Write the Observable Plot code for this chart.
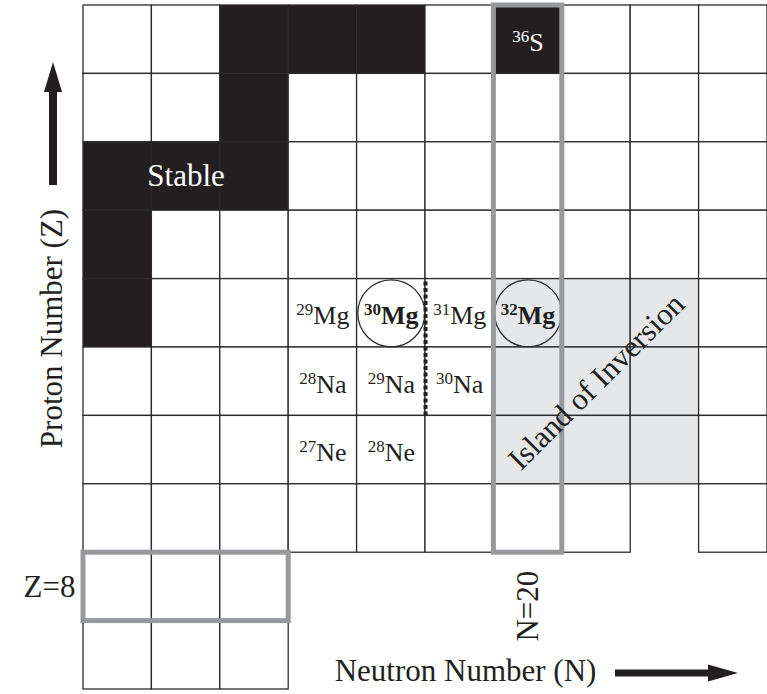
<!DOCTYPE html>
<html>
<head>
<meta charset="utf-8">
<script src="https://cdn.jsdelivr.net/npm/d3@7"></script>
<script src="https://cdn.jsdelivr.net/npm/@observablehq/plot@0.6"></script>
<style>
  html, body { margin: 0; padding: 0; background: #fff; }
</style>
</head>
<body>
<div id="chart"></div>
<script>
// Columns (neutron number N) and rows (proton number Z) of this corner of the nuclide chart
const neutronNumbers = [14, 15, 16, 17, 18, 19, 20, 21, 22, 23];
const protonNumbers = [16, 15, 14, 13, 12, 11, 10, 9, 8, 7];

// Neutron numbers of the nuclides shown in each proton row (same order as protonNumbers)
const nuclidesByRow = [
  [14, 15, 16, 17, 18, 19, 20, 21, 22, 23],
  [14, 15, 16, 17, 18, 19, 20, 21, 22, 23],
  [14, 15, 16, 17, 18, 19, 20, 21, 22, 23],
  [14, 15, 16, 17, 18, 19, 20, 21, 22, 23],
  [14, 15, 16, 17, 18, 19, 20, 21, 22, 23],
  [14, 15, 16, 17, 18, 19, 20, 21, 22, 23],
  [14, 15, 16, 17, 18, 19, 20, 21, 22, 23],
  [14, 15, 16, 17, 18, 19, 20, 21, 23],
  [14, 15, 16],
  [14, 15, 16]
];

// Stable nuclides (proton number, neutron number)
const stableZ = [16, 16, 16, 16, 15, 14, 14, 14, 13, 12];
const stableN = [16, 17, 18, 20, 16, 14, 15, 16, 14, 14];

// The island of inversion
const islandN = [20, 21, 22];
const islandZ = [10, 11, 12];

// Named nuclides: element symbol, proton number, mass number
const labelSymbol = ["Mg", "Mg", "Mg", "Mg", "Na", "Na", "Na", "Ne", "Ne", "S"];
const labelZ = [12, 12, 12, 12, 11, 11, 11, 10, 10, 16];
const labelMass = [29, 30, 31, 32, 28, 29, 30, 27, 28, 36];
// Circled (bold) nuclides, by mass number of magnesium
const circledMgMass = [30, 32];

// Magic numbers and the shell gap between N = 18 and N = 19
const magicN = 20;
const magicZ = 8;
const shellGapN = [18, 19];
const shellGapZ = [11, 12];

// Annotation texts
const stableText = "Stable";
const stableTextRow = 14;
const islandText = "Island of Inversion";
const protonTitle = "Proton Number (Z)";
const neutronTitle = "Neutron Number (N)";

// ---- styling ----
const ink = "#231f20";
const gridInk = "#2b2b2b";
const islandFill = "#e6e7e9";
const magicStroke = "#97999c";
const serif = "'Liberation Serif', 'Times New Roman', serif";
const bigFont = 31;
const nuclideFont = 26;
const massFont = 17;

// ---- derived tables ----
const isStable = (N, Z) => stableZ.some((z, i) => z === Z && stableN[i] === N);
const inIsland = (N, Z) => islandN.includes(N) && islandZ.includes(Z);

const cells = protonNumbers.flatMap((Z, i) =>
  nuclidesByRow[i].map(N => ({
    N, Z,
    fill: isStable(N, Z) ? ink : inIsland(N, Z) ? islandFill : "#ffffff"
  }))
);

const nuclides = labelSymbol.map((symbol, i) => {
  const Z = labelZ[i], A = labelMass[i], N = A - Z;
  return {
    N, Z, label: `${A}${symbol}`,
    circled: symbol === "Mg" && circledMgMass.includes(A),
    stable: isStable(N, Z)
  };
});

// Extent of the N = 20 column and of the Z = 8 row among the nuclides shown
const magicColumnZ = d3.extent(cells.filter(d => d.N === magicN), d => d.Z);
const magicRowN = d3.extent(cells.filter(d => d.Z === magicZ), d => d.N);
const magicBoxes = [
  {x1: magicN - 0.5, x2: magicN + 0.5, y1: magicColumnZ[0] - 0.5, y2: magicColumnZ[1] + 0.5},
  {x1: magicRowN[0] - 0.5, x2: magicRowN[1] + 0.5, y1: magicZ - 0.5, y2: magicZ + 0.5}
];

const stableRow = stableN.filter((n, i) => stableZ[i] === stableTextRow);
const stableLabel = [{N: d3.mean(stableRow), Z: stableTextRow, text: stableText}];
const islandLabel = [{N: d3.mean(islandN), Z: d3.mean(islandZ), text: islandText}];
const shellGap = [{N: d3.mean(shellGapN), Z1: d3.min(shellGapZ) - 0.5, Z2: d3.max(shellGapZ) + 0.5}];

const width = 767, height = 694;
const marginLeft = 83, marginRight = 0, marginTop = 5, marginBottom = 5;
const cellSize = (width - marginLeft - marginRight) / neutronNumbers.length;

// Filled block arrow from (x0, y0) to the tip (x1, y1)
function blockArrow(x0, y0, x1, y1, shaft, headWidth, headLength) {
  const len = Math.hypot(x1 - x0, y1 - y0);
  const ux = (x1 - x0) / len, uy = (y1 - y0) / len;
  const nx = -uy, ny = ux;
  const bx = x1 - ux * headLength, by = y1 - uy * headLength;
  const p = [
    [x0 + nx * shaft / 2, y0 + ny * shaft / 2],
    [bx + nx * shaft / 2, by + ny * shaft / 2],
    [bx + nx * headWidth / 2, by + ny * headWidth / 2],
    [x1, y1],
    [bx - nx * headWidth / 2, by - ny * headWidth / 2],
    [bx - nx * shaft / 2, by - ny * shaft / 2],
    [x0 - nx * shaft / 2, y0 - ny * shaft / 2]
  ];
  return "M" + p.map(q => q.join(",")).join("L") + "Z";
}

// Arrows that accompany the two axis titles
function axisArrows(index, scales, values, dims) {
  const g = d3.create("svg:g").attr("fill", ink);
  const ax = dims.marginLeft - 30;
  g.append("path").attr("d", blockArrow(ax, dims.marginTop + 180, ax, dims.marginTop + 57, 8, 18, 30));
  const ay = dims.height - dims.marginBottom - 16;
  g.append("path").attr("d", blockArrow(dims.width - 152, ay, dims.width - 29, ay, 7, 17, 30));
  return g.node();
}

const plot = Plot.plot({
  width, height, marginLeft, marginRight, marginTop, marginBottom,
  x: {domain: [neutronNumbers[0] - 0.5, neutronNumbers[neutronNumbers.length - 1] + 0.5], axis: null},
  y: {domain: [d3.min(protonNumbers) - 0.5, d3.max(protonNumbers) + 0.5], axis: null},
  color: {type: "identity"},
  style: {fontFamily: serif, color: ink, background: "#fff", overflow: "visible"},
  marks: [
    // nuclide cells
    Plot.rect(cells, {
      x1: d => d.N - 0.5, x2: d => d.N + 0.5,
      y1: d => d.Z - 0.5, y2: d => d.Z + 0.5,
      fill: "fill", stroke: gridInk, strokeWidth: 1.3
    }),
    // circles around 30Mg and 32Mg
    Plot.dot(nuclides.filter(d => d.circled), {
      x: "N", y: "Z", r: cellSize * 0.49,
      stroke: gridInk, strokeWidth: 1.3, fill: "none"
    }),
    // magic number boxes
    Plot.rect(magicBoxes, {
      x1: "x1", x2: "x2", y1: "y1", y2: "y2",
      fill: "none", stroke: magicStroke, strokeWidth: 5
    }),
    // N = 20 shell gap disappearing in the island of inversion
    Plot.ruleX(shellGap, {
      x: "N", y1: "Z1", y2: "Z2",
      stroke: ink, strokeWidth: 4, strokeDasharray: "4,2.5"
    }),
    // nuclide names
    Plot.text(nuclides.filter(d => !d.circled && !d.stable), {
      x: "N", y: "Z", text: "label", fontSize: nuclideFont, fill: ink
    }),
    Plot.text(nuclides.filter(d => d.circled), {
      x: "N", y: "Z", text: "label", fontSize: nuclideFont, fontWeight: "bold", fill: ink
    }),
    Plot.text(nuclides.filter(d => d.stable), {
      x: "N", y: "Z", text: "label", fontSize: nuclideFont, fill: "#ffffff"
    }),
    // region annotations
    Plot.text(stableLabel, {x: "N", y: "Z", text: "text", fontSize: bigFont, fill: "#ffffff"}),
    Plot.text(islandLabel, {x: "N", y: "Z", text: "text", fontSize: bigFont, fill: ink, rotate: -45}),
    // magic number labels
    Plot.text([`Z=${magicZ}`], {
      x: neutronNumbers[0] - 0.5, y: magicZ, text: d => d,
      textAnchor: "end", dx: -8, fontSize: bigFont, fill: ink
    }),
    Plot.text([`N=${magicN}`], {
      x: magicN, y: magicColumnZ[0] - 0.5, text: d => d,
      rotate: -90, textAnchor: "end", dy: 18, fontSize: bigFont, fill: ink
    }),
    // axis titles
    Plot.text([protonTitle], {
      frameAnchor: "left", text: d => d, rotate: -90,
      textAnchor: "middle", lineAnchor: "middle",
      dx: -31, dy: -19, fontSize: bigFont, fill: ink
    }),
    Plot.text([neutronTitle], {
      frameAnchor: "bottom", text: d => d,
      textAnchor: "middle", lineAnchor: "middle",
      dx: 40, dy: -18, fontSize: bigFont, fill: ink
    }),
    axisArrows
  ]
});

// Set the mass number of each nuclide label as a superscript
d3.select(plot).selectAll("text").each(function () {
  const m = /^(\d+)([A-Z][a-z]?)$/.exec(this.textContent);
  if (!m) return;
  const t = d3.select(this).attr("y", null).text("");
  t.append("tspan").attr("font-size", massFont).attr("dy", 2).text(m[1]);
  t.append("tspan").attr("font-size", nuclideFont).attr("dy", 9).text(m[2]);
});

document.getElementById("chart").append(plot);
</script>
</body>
</html>
